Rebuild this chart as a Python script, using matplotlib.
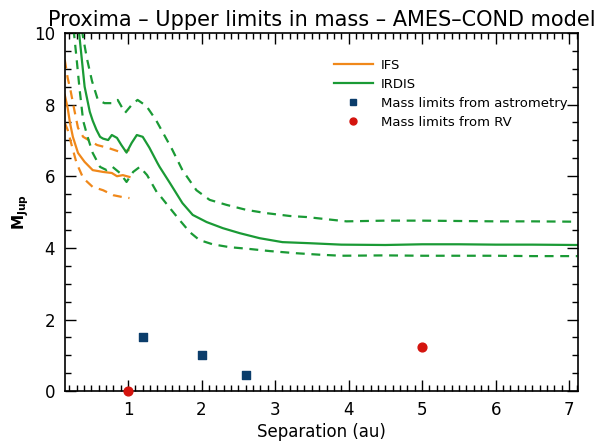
import matplotlib
matplotlib.use("Agg")
import matplotlib.pyplot as plt
from matplotlib.ticker import MultipleLocator
from matplotlib.lines import Line2D

# IFS contrast curve converted to mass (solid = nominal, dashed = bounds)
ifs_sep = [0.14, 0.18, 0.21, 0.25, 0.32, 0.41, 0.52, 0.66, 0.78, 0.85, 0.93, 1.02]
ifs_mass = [8.27, 7.90, 7.50, 7.10, 6.65, 6.40, 6.17, 6.12, 6.09, 6.00, 6.03, 5.98]
ifs_up_sep = [0.14, 0.18, 0.22, 0.27, 0.32, 0.39, 0.58, 0.73, 0.89, 1.02]
ifs_up = [9.25, 8.74, 8.38, 7.85, 7.35, 7.10, 6.87, 6.79, 6.68, 6.73]
ifs_lo_sep = [0.14, 0.18, 0.24, 0.30, 0.39, 0.52, 0.66, 0.80, 0.92, 1.02]
ifs_lo = [7.49, 7.29, 6.82, 6.37, 5.95, 5.70, 5.61, 5.47, 5.42, 5.39]

# IRDIS
irdis_sep = [0.33, 0.37, 0.41, 0.48, 0.52, 0.57, 0.62, 0.66, 0.73, 0.78, 0.85, 0.91,
             0.98, 1.05, 1.12, 1.20, 1.29, 1.40, 1.43, 1.57, 1.74, 1.88, 2.07, 2.29,
             2.52, 2.79, 3.10, 3.47, 3.90, 4.5, 5.0, 5.5, 6.0, 6.5, 7.11]
irdis_mass = [10.1, 9.30, 8.50, 7.80, 7.55, 7.30, 7.10, 7.05, 7.01, 7.15, 7.07, 6.87,
              6.66, 6.93, 7.15, 7.10, 6.80, 6.37, 6.26, 5.81, 5.25, 4.92, 4.72, 4.55,
              4.41, 4.27, 4.16, 4.13, 4.09, 4.08, 4.10, 4.10, 4.09, 4.09, 4.08]
irdis_up_sep = [0.37, 0.44, 0.51, 0.59, 0.68, 0.78, 0.86, 0.96, 1.05, 1.13, 1.25, 1.38,
                1.60, 1.74, 1.93, 2.11, 2.34, 2.61, 2.88, 3.20, 3.43, 3.7, 3.97, 4.5,
                5.0, 5.5, 6.0, 6.5, 7.11]
irdis_up = [10.1, 9.30, 8.66, 8.13, 8.04, 8.04, 8.13, 7.77, 7.99, 8.13, 7.96, 7.57,
            6.75, 6.17, 5.61, 5.34, 5.20, 5.06, 4.97, 4.89, 4.86, 4.80, 4.74, 4.76,
            4.76, 4.75, 4.74, 4.74, 4.73]
irdis_lo_sep = [0.26, 0.30, 0.34, 0.39, 0.45, 0.52, 0.62, 0.71, 0.79, 0.89, 0.98, 1.07,
                1.16, 1.26, 1.39, 1.43, 1.57, 1.70, 1.84, 1.97, 2.15, 2.38, 2.65, 2.93,
                3.29, 3.6, 3.9, 4.5, 5.0, 5.5, 6.0, 6.5, 7.11]
irdis_lo = [10.1, 9.30, 8.46, 7.55, 7.10, 6.65, 6.26, 6.17, 6.26, 6.09, 5.84, 6.12,
            6.26, 6.03, 5.56, 5.47, 5.11, 4.78, 4.44, 4.22, 4.10, 4.02, 3.97, 3.91,
            3.85, 3.81, 3.78, 3.79, 3.78, 3.78, 3.78, 3.77, 3.77]

# Mass limits from other techniques
astro_sep = [1.2, 2.0, 2.6]
astro_mass = [1.5, 1.0, 0.45]
rv_sep = [1.0, 5.0]
rv_mass = [0.0, 1.22]

orange = "#f0881a"
green = "#1a9a35"
navy = "#0b3d6b"
red = "#d4140e"

fig = plt.figure(figsize=(6.11, 4.45), dpi=100)
ax = fig.add_axes([0.106, 0.121, 0.840, 0.805])

dash = (0, (4, 3))
ax.plot(ifs_sep, ifs_mass, color=orange, lw=1.6)
ax.plot(ifs_up_sep, ifs_up, color=orange, lw=1.6, ls=dash)
ax.plot(ifs_lo_sep, ifs_lo, color=orange, lw=1.6, ls=dash)
ax.plot(irdis_sep, irdis_mass, color=green, lw=1.6)
ax.plot(irdis_up_sep, irdis_up, color=green, lw=1.6, ls=dash)
ax.plot(irdis_lo_sep, irdis_lo, color=green, lw=1.6, ls=dash)

ax.scatter(astro_sep, astro_mass, marker="s", s=40, color=navy, zorder=5)
ax.scatter(rv_sep, rv_mass, marker="o", s=40, color=red, zorder=5, clip_on=False)

ax.set_xlim(0.14, 7.12)
ax.set_ylim(0, 10)
ax.xaxis.set_major_locator(MultipleLocator(1))
ax.xaxis.set_minor_locator(MultipleLocator(0.1))
ax.yaxis.set_major_locator(MultipleLocator(2))
ax.yaxis.set_minor_locator(MultipleLocator(0.5))
ax.tick_params(which="both", direction="in", top=True, right=True, width=1.0,
               labelsize=12, pad=7)
ax.tick_params(which="major", length=8)
ax.tick_params(which="minor", length=4)
for s in ax.spines.values():
    s.set_linewidth(1.2)

ax.set_xlabel("Separation (au)", fontsize=12, labelpad=3)
ax.set_ylabel(r"M$_{\mathbf{Jup}}$", fontsize=11, fontweight="bold")
ax.yaxis.set_label_coords(-0.066, 0.5)
ax.set_title("Proxima \u2013 Upper limits in mass \u2013 AMES\u2013COND model",
             fontsize=15, pad=5)

handles = [
    Line2D([], [], color=orange, lw=1.6),
    Line2D([], [], color=green, lw=1.6),
    Line2D([], [], marker="s", ls="none", color=navy, markersize=5),
    Line2D([], [], marker="o", ls="none", color=red, markersize=5),
]
labels = ["IFS", "IRDIS", "Mass limits from astrometry", "Mass limits from RV"]
ax.legend(handles, labels, loc="upper left", bbox_to_anchor=(0.524, 0.927),
          frameon=False, fontsize=9.5, handlelength=3.0, handletextpad=0.6,
          labelspacing=0.45, borderaxespad=0, borderpad=0)

fig.savefig("out.png", dpi=100)
